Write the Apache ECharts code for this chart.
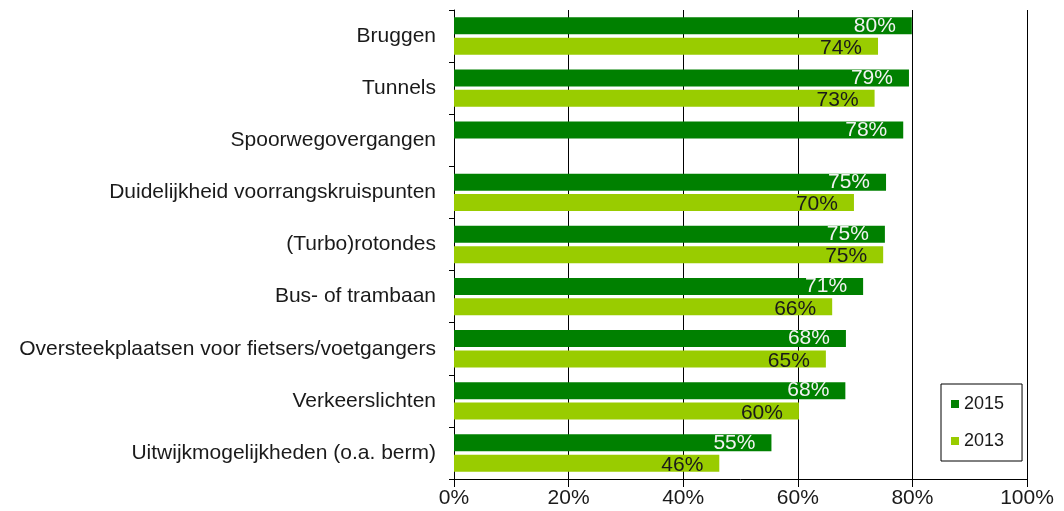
<!DOCTYPE html>
<html>
<head>
<meta charset="utf-8">
<script src="https://cdn.jsdelivr.net/npm/echarts@6/dist/echarts.min.js"></script>
<style>
  html, body { margin: 0; padding: 0; background: #fff; }
  #chart { width: 1064px; height: 511px; }
</style>
</head>
<body>
<div id="chart"></div>
<script>
// categories (top to bottom)
var categories = [
  "Bruggen",
  "Tunnels",
  "Spoorwegovergangen",
  "Duidelijkheid voorrangskruispunten",
  "(Turbo)rotondes",
  "Bus- of trambaan",
  "Oversteekplaatsen voor fietsers/voetgangers",
  "Verkeerslichten",
  "Uitwijkmogelijkheden (o.a. berm)"
];
// percentages (labels show them rounded)
var values2015 = [79.9, 79.4, 78.4, 75.4, 75.2, 71.4, 68.4, 68.3, 55.4];
var values2013 = [74.0, 73.4, null, 69.8, 74.9, 66.0, 64.9, 60.2, 46.3];
var xTicks = [0, 20, 40, 60, 80, 100];

var font = "Liberation Sans, Arial, sans-serif";

var myChart = echarts.init(document.getElementById("chart"), null, { renderer: "canvas" });

function pct(p) {
  return Math.round(p.value) + "%";
}

var option = {
  animation: false,
  textStyle: { fontFamily: font },
  grid: { left: 454, right: 37, top: 10, bottom: 32 },
  legend: {
    orient: "vertical",
    left: 941,
    top: 384,
    padding: [11, 18, 11, 10],
    itemWidth: 8,
    itemHeight: 8,
    itemGap: 19,
    icon: "rect",
    borderColor: "#000",
    borderWidth: 1,
    backgroundColor: "#fff",
    textStyle: { fontSize: 18, color: "#1a1a1a", fontFamily: font },
    data: ["2015", "2013"]
  },
  xAxis: {
    type: "value",
    min: xTicks[0],
    max: xTicks[xTicks.length - 1],
    interval: 20,
    axisLine: { show: true, lineStyle: { color: "#000", width: 1 } },
    axisTick: { show: true, length: 8, lineStyle: { color: "#000" } },
    axisLabel: {
      formatter: "{value}%",
      fontSize: 21,
      color: "#1a1a1a",
      margin: 9,
      fontFamily: font
    },
    splitLine: { show: true, lineStyle: { color: "#000", width: 1 } }
  },
  yAxis: {
    type: "category",
    inverse: true,
    data: categories,
    axisLine: { show: true, lineStyle: { color: "#000", width: 1 } },
    axisTick: { show: true, length: 5, lineStyle: { color: "#000" } },
    axisLabel: { fontSize: 21, color: "#1a1a1a", margin: 18, fontFamily: font }
  },
  series: [
    {
      name: "2015",
      type: "bar",
      data: values2015,
      barWidth: 17,
      barGap: "20%",
      itemStyle: { color: "#008000" },
      label: {
        show: true,
        position: "insideRight",
        distance: 0,
        offset: [-16, 0],
        formatter: pct,
        fontSize: 21,
        color: "#f2f2f2",
        fontFamily: font
      }
    },
    {
      name: "2013",
      type: "bar",
      data: values2013,
      barWidth: 17,
      barGap: "20%",
      itemStyle: { color: "#99cc00" },
      label: {
        show: true,
        position: "insideRight",
        distance: 0,
        offset: [-16, 2],
        formatter: pct,
        fontSize: 21,
        color: "#1a1a1a",
        fontFamily: font
      }
    }
  ]
};

myChart.setOption(option);
</script>
</body>
</html>
